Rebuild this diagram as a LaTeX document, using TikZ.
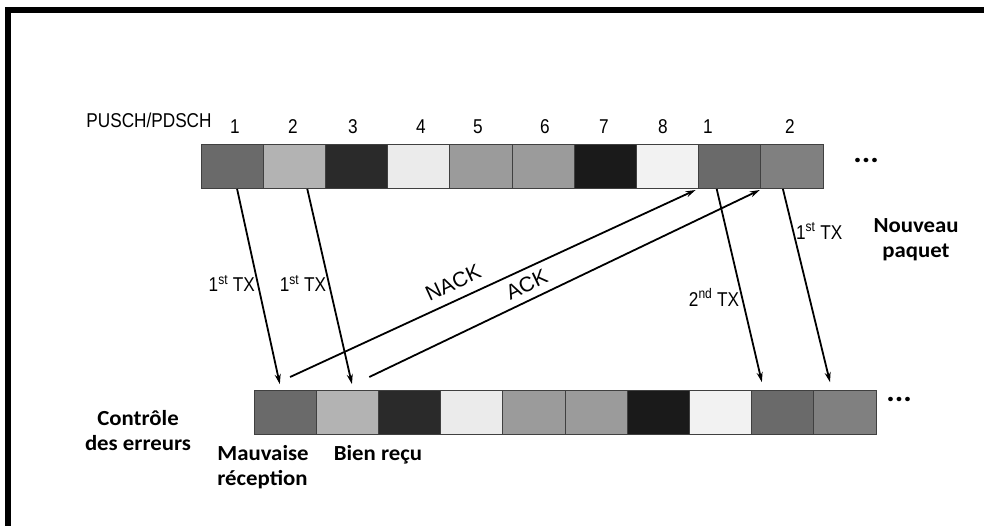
\documentclass[tikz,border=0pt]{standalone}
\usepackage{fontspec}
\setmainfont{Liberation Sans}
\newfontfamily\narrowfont[FakeStretch=0.86]{Liberation Sans}
\newfontfamily\calfont[FakeStretch=1.06]{Carlito}
\usetikzlibrary{positioning,arrows.meta}
\definecolor{shadeA}{HTML}{6A6A6A}
\definecolor{shadeB}{HTML}{B3B3B3}
\definecolor{shadeC}{HTML}{2A2A2A}
\definecolor{shadeD}{HTML}{EBEBEB}
\definecolor{shadeE}{HTML}{9B9B9B}
\definecolor{shadeF}{HTML}{1A1A1A}
\definecolor{shadeG}{HTML}{F2F2F2}
\definecolor{shadeH}{HTML}{808080}
\begin{document}
\begin{tikzpicture}[x=1pt, y=-1pt, node distance=0pt, line width=1.8pt, >={Stealth[length=10pt,width=6pt]},
cell/.style={draw=black!75, line width=1pt, minimum width=62.2pt, minimum height=44pt, inner sep=0pt, outer sep=0pt},
num/.style={font=\narrowfont\fontsize{20}{22}\selectfont},
lab/.style={font=\calfont\bfseries\fontsize{21.5}{25}\selectfont, align=center},
tx/.style={font=\narrowfont\fontsize{20}{22}\selectfont, inner sep=2pt},
ack/.style={font=\fontsize{21}{22}\selectfont, inner sep=2pt}]
\useasboundingbox (0,0) rectangle (984,526);
\draw[line width=6pt] (8,526) -- (8,10.5) -- (984,10.5);
% emission
\node[cell, fill=shadeA] (t1) at (232.1,167) {};
\node[cell, fill=shadeB, right=of t1] (t2) {};
\node[cell, fill=shadeC, right=of t2] (t3) {};
\node[cell, fill=shadeD, right=of t3] (t4) {};
\node[cell, fill=shadeE, right=of t4] (t5) {};
\node[cell, fill=shadeE, right=of t5] (t6) {};
\node[cell, fill=shadeF, right=of t6] (t7) {};
\node[cell, fill=shadeG, right=of t7] (t8) {};
\node[cell, fill=shadeA, right=of t8] (t9) {};
\node[cell, fill=shadeH, right=of t9] (t10) {};
% reception
\node[cell, fill=shadeA] (b1) at (285.1,412) {};
\node[cell, fill=shadeB, right=of b1] (b2) {};
\node[cell, fill=shadeC, right=of b2] (b3) {};
\node[cell, fill=shadeD, right=of b3] (b4) {};
\node[cell, fill=shadeE, right=of b4] (b5) {};
\node[cell, fill=shadeE, right=of b5] (b6) {};
\node[cell, fill=shadeF, right=of b6] (b7) {};
\node[cell, fill=shadeG, right=of b7] (b8) {};
\node[cell, fill=shadeA, right=of b8] (b9) {};
\node[cell, fill=shadeH, right=of b9] (b10) {};
\begin{scope}[every node/.style={num}]
\node (chan) at (149,120) {PUSCH/PDSCH};
\node (n1) at (235,127) {1};
\node (n2) at (293,127) {2};
\node (n3) at (353,127) {3};
\node (n4) at (421,127) {4};
\node (n5) at (478,127) {5};
\node (n6) at (545,127) {6};
\node (n7) at (604,127) {7};
\node (n8) at (663,127) {8};
\node (n9) at (708,127) {1};
\node (n10) at (790,127) {2};
\end{scope}
\begin{scope}[every node/.style={lab}]
\node[font=\calfont\bfseries\fontsize{30}{30}\selectfont] (dotsT) at (866,160) {...};
\node[font=\calfont\bfseries\fontsize{30}{30}\selectfont] (dotsB) at (899,399) {...};
\node (ctrl) at (138,431) {Contrôle\\des erreurs};
\node[align=left] (bad) at (263,467) {Mauvaise\\réception};
\node (good) at (378,455) {Bien reçu};
\node (new) at (916,240) {Nouveau\\paquet};
\end{scope}
\draw ([xshift=5pt]t1.south) edge[->, shorten >=6pt] node[tx,left,pos=0.47]{1\textsuperscript{st} TX} ([xshift=-4pt]b1.north);
\draw ([xshift=13pt]t2.south) edge[->, shorten >=6pt] node[tx,left,pos=0.47]{1\textsuperscript{st} TX} ([xshift=6pt]b2.north);
\draw ([xshift=5pt,yshift=13pt]b1.north) edge[->] node[ack,sloped,above=7pt,pos=0.42]{NACK} ([xshift=-3pt,yshift=-1pt]t8.south east);
\draw ([xshift=22pt,yshift=13pt]b2.north) edge[->] node[ack,sloped,above=5pt,pos=0.42]{ACK} ([xshift=-1pt,yshift=-1pt]t9.south east);
\draw ([xshift=-13pt]t9.south) edge[->, shorten >=8pt] node[tx,left,pos=0.54]{2\textsuperscript{nd} TX} ([xshift=-19pt]b9.north);
\draw ([xshift=-9pt]t10.south) edge[->, shorten >=8pt] node[tx,right,pos=0.21]{1\textsuperscript{st} TX} ([xshift=-13pt]b10.north);
\end{tikzpicture}
\end{document}
